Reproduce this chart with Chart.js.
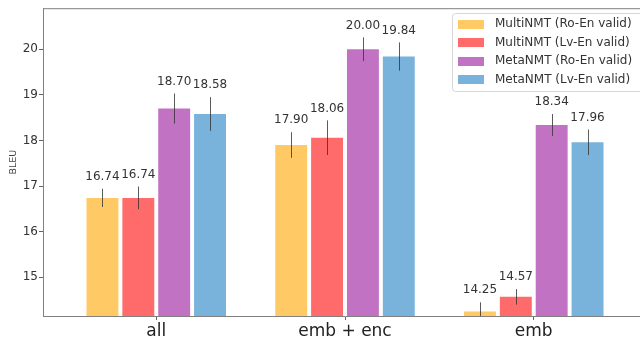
<!DOCTYPE html>
<html>
<head>
<meta charset="utf-8">
<script src="https://cdn.jsdelivr.net/npm/chart.js@4.4.0/dist/chart.umd.min.js"></script>
<style>
  html, body { margin: 0; padding: 0; background: #fff; overflow: hidden; width: 640px; height: 340px; }
  #wrap { position: relative; width: 680px; height: 340px; }
</style>
</head>
<body>
<div id="wrap"><canvas id="c" width="680" height="340"></canvas></div>
<script>
// Fine-tuned layers: BLEU per setting, four training configurations
const categories = ['all', 'emb + enc', 'emb'];
const seriesNames = ['MultiNMT (Ro-En valid)', 'MultiNMT (Lv-En valid)', 'MetaNMT (Ro-En valid)', 'MetaNMT (Lv-En valid)'];
const multiRo = [16.74, 17.90, 14.25];
const multiLv = [16.74, 18.06, 14.57];
const metaRo  = [18.70, 20.00, 18.34];
const metaLv  = [18.58, 19.84, 17.96];
// half-widths of the error bars
const errMultiRo = [0.20, 0.28, 0.20];
const errMultiLv = [0.25, 0.38, 0.17];
const errMetaRo  = [0.33, 0.26, 0.24];
const errMetaLv  = [0.37, 0.31, 0.28];
const yTicks = [15, 16, 17, 18, 19, 20];

const seriesValues = [multiRo, multiLv, metaRo, metaLv];
const seriesErrors = [errMultiRo, errMultiLv, errMetaRo, errMetaLv];
const colors = ['#FFC966', '#FF6B6B', '#C272C2', '#79B2DB'];

Chart.defaults.font.family = "'DejaVu Sans', sans-serif";

const datasets = seriesNames.map((name, d) => ({
  label: name,
  data: seriesValues[d].map((v, i) => ({ x: i, y: v })),
  backgroundColor: colors[d],
  borderWidth: 0,
  categoryPercentage: 0.76,
  barPercentage: 0.89
}));

const extras = {
  id: 'extras',
  afterDatasetsDraw(chart) {
    const ctx = chart.ctx;
    const y = chart.scales.y;
    const area = chart.chartArea;
    ctx.save();
    // error bars
    ctx.beginPath();
    ctx.rect(area.left, area.top, area.right - area.left, area.bottom - area.top);
    ctx.clip();
    ctx.strokeStyle = 'rgba(50,50,50,0.8)';
    ctx.lineWidth = 1;
    seriesValues.forEach((vals, d) => {
      const meta = chart.getDatasetMeta(d);
      vals.forEach((v, i) => {
        const x = Math.round(meta.data[i].x) + 0.5;
        const e = seriesErrors[d][i];
        ctx.beginPath();
        ctx.moveTo(x, y.getPixelForValue(v + e));
        ctx.lineTo(x, y.getPixelForValue(v - e));
        ctx.stroke();
      });
    });
    ctx.restore();

    // value labels
    ctx.save();
    ctx.fillStyle = '#333';
    ctx.font = "12px 'DejaVu Sans'";
    ctx.textAlign = 'center';
    ctx.textBaseline = 'middle';
    seriesValues.forEach((vals, d) => {
      const meta = chart.getDatasetMeta(d);
      vals.forEach((v, i) => {
        const top = y.getPixelForValue(v + seriesErrors[d][i]);
        ctx.fillText(v.toFixed(2), meta.data[i].x, top - 12);
      });
    });
    ctx.restore();

    // top spine
    ctx.save();
    ctx.strokeStyle = '#808080';
    ctx.lineWidth = 1;
    ctx.beginPath();
    ctx.moveTo(area.left, area.top + 0.5);
    ctx.lineTo(area.right, area.top + 0.5);
    ctx.stroke();
    ctx.restore();
  },
  afterDraw(chart) {
    const ctx = chart.ctx;
    ctx.save();
    // legend frame
    const bx = 452.5, by = 13.5, bw = 220, bh = 78, r = 3;
    ctx.beginPath();
    ctx.moveTo(bx + r, by);
    ctx.lineTo(bx + bw - r, by);
    ctx.quadraticCurveTo(bx + bw, by, bx + bw, by + r);
    ctx.lineTo(bx + bw, by + bh - r);
    ctx.quadraticCurveTo(bx + bw, by + bh, bx + bw - r, by + bh);
    ctx.lineTo(bx + r, by + bh);
    ctx.quadraticCurveTo(bx, by + bh, bx, by + bh - r);
    ctx.lineTo(bx, by + r);
    ctx.quadraticCurveTo(bx, by, bx + r, by);
    ctx.closePath();
    ctx.fillStyle = 'rgba(255,255,255,0.85)';
    ctx.fill();
    ctx.strokeStyle = '#d6d6d6';
    ctx.stroke();
    // legend rows
    ctx.font = "12px 'DejaVu Sans'";
    ctx.textBaseline = 'middle';
    ctx.textAlign = 'left';
    seriesNames.forEach((name, d) => {
      const cy = 24 + d * 18.5;
      ctx.fillStyle = colors[d];
      ctx.fillRect(458, Math.round(cy - 4.5), 26, 9);
      ctx.fillStyle = '#333';
      ctx.fillText(name, 495, cy);
    });
    ctx.restore();
  }
};

new Chart(document.getElementById('c'), {
  type: 'bar',
  data: { datasets },
  options: {
    responsive: false,
    animation: false,
    devicePixelRatio: 1,
    layout: { padding: { top: 7, right: 33, left: 0, bottom: 0 } },
    plugins: { legend: { display: false }, tooltip: { enabled: false } },
    scales: {
      x: {
        type: 'linear',
        offset: false,
        min: -0.6,
        max: 2.6,
        afterBuildTicks: s => { s.ticks = categories.map((c, i) => ({ value: i })); },
        afterFit: s => { s.height = 24; },
        ticks: {
          callback: v => categories[v] !== undefined ? categories[v] : '',
          font: { size: 17 },
          color: '#222',
          padding: 1,
          autoSkip: false,
          maxRotation: 0
        },
        grid: { offset: false, drawOnChartArea: false, drawTicks: true, tickLength: 4, tickColor: '#666' },
        border: { display: true, color: '#808080', width: 1 }
      },
      y: {
        min: 14.15,
        max: 20.9,
        afterBuildTicks: s => { s.ticks = yTicks.map(v => ({ value: v })); },
        afterFit: s => { s.width = 43; },
        ticks: { font: { size: 12 }, color: '#333', padding: 1 },
        grid: { drawOnChartArea: false, drawTicks: true, tickLength: 4, tickColor: '#666' },
        border: { display: true, color: '#808080', width: 1 },
        title: { display: true, text: 'BLEU', font: { size: 9.5 }, color: '#444', padding: { top: 8, bottom: 0 } }
      }
    }
  },
  plugins: [extras]
});
</script>
</body>
</html>
